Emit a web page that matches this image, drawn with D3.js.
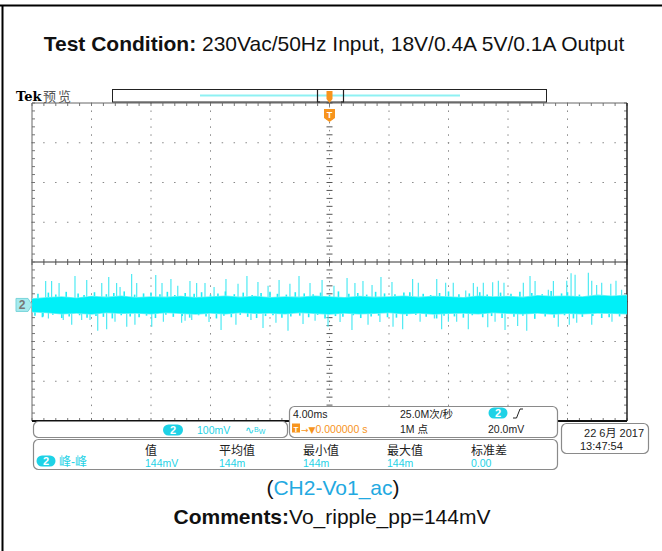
<!DOCTYPE html>
<html>
<head>
<meta charset="utf-8">
<script src="https://cdn.jsdelivr.net/npm/d3@7"></script>
<style>
body { margin: 0; background: #fff; }
svg text { font-family: "Liberation Sans", Arial, "Noto Sans CJK SC", sans-serif; }
</style>
</head>
<body>
<svg id="scope" width="662" height="551"></svg>
<script>
// scope settings: 4 ms/div x 10 div, 100 mV/div x 8 div
const timeDomain = [-20, 20];
const voltDomain = [-400, 400];
const ch2Offset = -108; // mV, trace position on screen

// noise band envelope, one value per ms from -20 to 20 (mV around the trace level)
const bandHi = [15,18,20,17,21,19,22,18,20,19,21,18,20,22,19,21,18,20,19,22,20,18,21,19,20,22,19,21,20,18,22,20,21,19,23,21,22,20,24,22,24];
const bandLo = [-17,-19,-22,-20,-23,-19,-21,-20,-22,-19,-21,-23,-20,-22,-19,-21,-20,-22,-19,-21,-23,-20,-22,-21,-19,-22,-20,-23,-21,-20,-22,-19,-21,-22,-20,-23,-21,-22,-20,-21,-22];

// spikes above the band: time (ms), peak (mV)
const spikeUpT = [-19.08,-18.68,-18.18,-17.11,-16.32,-15.31,-14.84,-14.31,-14.08,-13.30,-12.96,-11.68,-11.26,-10.66,-10.20,-9.38,-8.93,
  -8.37,-7.76,-6.96,-6.15,-5.55,-4.81,-4.13,-3.39,-2.66,-2.05,-1.31,-0.50,0.30,1.18,1.71,2.25,2.86,3.46,4.20,
  5.59,5.97,7.21,7.81,8.32,9.16,9.67,9.94,10.34,10.97,11.35,11.73,13.03,13.48,13.82,14.71,15.05,15.95,16.24,16.51,17.40,17.63,17.96,18.30,18.91,19.26,19.64];
const spikeUpV = [60,60,55,73,63,55,70,55,45,78,55,75,55,65,48,60,55,
  55,45,65,53,73,58,48,63,53,73,55,63,48,68,55,60,50,70,58,
  65,56,65,56,56,36,55,46,56,57,61,56,56,73,60,38,60,61,80,76,81,61,50,56,53,61,38];

// spikes below the band: time (ms), trough (mV)
const spikeDnT = [-19.24,-18.90,-17.90,-17.33,-16.66,-16.10,-15.58,-14.98,-14.42,-13.63,-13.08,-11.95,-11.17,-9.94,-9.71,-9.26,
  -8.10,-7.29,-6.29,-5.28,-4.47,-3.60,-2.79,-1.78,-0.97,-0.10,0.71,1.51,2.59,3.39,4.27,
  4.92,6.09,7.05,7.54,7.99,8.55,9.33,10.64,11.13,11.80,12.65,13.26,15.38,16.12,16.62,17.63,18.99];
const spikeDnV = [-29,-34,-38,-50,-38,-38,-65,-61,-42,-55,-50,-55,-42,-45,-40,-38,
  -43,-63,-50,-38,-58,-45,-65,-48,-40,-55,-43,-63,-50,-43,-55,
  -61,-42,-34,-61,-42,-42,-61,-56,-42,-63,-53,-65,-55,-50,-45,-50,-42];

// short fringe spikes just outside the band: time (ms), level (mV)
const fringeUpT = [-19.6,-18.9,-18.4,-17.7,-16.9,-16.5,-15.8,-15.0,-14.5,-13.8,-13.1,-12.5,-12.0,-11.4,-10.9,-10.4,-9.7,-9.1,-8.6,-8.0,
  -7.5,-7.0,-6.4,-5.8,-5.2,-4.6,-4.0,-3.5,-2.9,-2.3,-1.7,-1.1,-0.6,0.0,0.6,1.3,1.9,2.5,3.1,3.7,
  4.4,5.0,5.4,6.3,6.8,7.4,8.0,8.7,9.4,10.1,10.6,11.5,12.2,12.8,13.6,14.3,14.9,15.6,16.0,16.8];
const fringeUpV = [28,31,26,33,29,25,32,27,30,34,26,29,31,27,33,25,30,28,32,26,
  29,34,27,31,25,30,33,28,26,32,29,27,31,25,34,28,30,26,33,29,
  27,31,32,28,25,30,34,27,29,32,26,31,28,33,30,27,35,29,32,26];
const fringeDnT = [-19.8,-19.3,-18.6,-18.0,-17.5,-16.8,-16.3,-15.7,-15.2,-14.6,-14.0,-13.4,-12.8,-12.3,-11.7,-11.0,-10.5,-9.9,-9.4,-8.8,
  -8.3,-7.6,-7.1,-6.6,-6.0,-5.5,-4.9,-4.3,-3.8,-3.2,-2.6,-2.0,-1.4,-0.8,-0.3,0.4,0.9,1.6,2.1,2.8,
  3.3,3.9,4.5,5.2,5.8,6.5,7.2,7.7,8.4,9.0,9.6,10.3,10.9,11.6,12.4,13.0,13.8,14.5,15.1,15.8,16.4,17.0,17.7,18.3,18.8,19.5];
const fringeDnV = [-27,-31,-25,-33,-29,-26,-32,-28,-30,-34,-26,-29,-31,-27,-33,-25,-30,-28,-32,-26,
  -29,-34,-27,-31,-25,-30,-33,-28,-26,-32,-29,-27,-31,-25,-34,-28,-30,-26,-33,-29,
  -27,-31,-32,-28,-25,-30,-34,-27,-29,-32,-26,-31,-28,-33,-30,-27,-35,-29,-32,-26,-34,-30,-28,-33,-31,-29];

// readouts
const measHeaders = ["值", "平均值", "最小值", "最大值", "标准差"];
const measValues = ["144mV", "144m", "144m", "144m", "0.00"];

const svg = d3.select("#scope");
const x = d3.scaleLinear().domain(timeDomain).range([32, 627]);
const y = d3.scaleLinear().domain(voltDomain).range([421, 103]);
const cyan = "#1ed2e6";
const orange = "#f7941d";

// page frame
svg.append("line").attr("x1", 0).attr("x2", 662).attr("y1", 5.5).attr("y2", 5.5).attr("stroke", "#000").attr("stroke-width", 2);
svg.append("line").attr("x1", 2.5).attr("x2", 2.5).attr("y1", 5).attr("y2", 551).attr("stroke", "#000").attr("stroke-width", 2);

svg.append("text").attr("x", 334).attr("y", 51).attr("text-anchor", "middle")
  .attr("font-size", 21).attr("fill", "#111")
  .call(t => {
    t.append("tspan").attr("font-weight", "bold").text("Test Condition:");
    t.append("tspan").text(" 230Vac/50Hz Input, 18V/0.4A 5V/0.1A Output");
  });

// graticule
const majorT = d3.range(-20, 20.01, 4);
const minorT = d3.range(-20, 20.01, 0.8);
const majorV = d3.range(-400, 401, 100);
const minorV = d3.range(-400, 401, 20);
const grid = svg.append("g");

majorT.filter(t => t > -20 && t < 20 && t !== 0).forEach(t => {
  grid.selectAll(null).data(minorV).enter().append("rect")
    .attr("x", x(t) - 0.5).attr("y", d => y(d) - 0.5).attr("width", 1).attr("height", 1.5).attr("fill", "#888");
});
majorV.filter(v => v > -400 && v < 400 && v !== 0).forEach(v => {
  grid.selectAll(null).data(minorT).enter().append("rect")
    .attr("x", d => x(d) - 0.75).attr("y", y(v) - 0.5).attr("width", 1.5).attr("height", 1).attr("fill", "#888");
});
// center lines
grid.append("line").attr("x1", x(-20)).attr("x2", x(20)).attr("y1", y(0)).attr("y2", y(0)).attr("stroke", "#333");
grid.selectAll(null).data(minorT).enter().append("line")
  .attr("x1", d => x(d)).attr("x2", d => x(d)).attr("y1", y(0) - 3).attr("y2", y(0) + 3).attr("stroke", "#555");
grid.selectAll(null).data(minorV).enter().append("line")
  .attr("x1", x(0) - 3).attr("x2", x(0) + 3).attr("y1", d => y(d)).attr("y2", d => y(d)).attr("stroke", "#555");
grid.selectAll(null).data(minorV).enter().append("rect")
  .attr("x", x(0) - 0.5).attr("y", d => y(d) + 3).attr("width", 1).attr("height", 1.5).attr("fill", "#888");
// edge ticks
grid.selectAll(null).data(minorT).enter().append("line")
  .attr("x1", d => x(d)).attr("x2", d => x(d)).attr("y1", y(400)).attr("y2", y(400) + 3).attr("stroke", "#777");
grid.selectAll(null).data(minorT).enter().append("line")
  .attr("x1", d => x(d)).attr("x2", d => x(d)).attr("y1", y(-400)).attr("y2", y(-400) - 3).attr("stroke", "#777");
grid.selectAll(null).data(minorV).enter().append("line")
  .attr("x1", x(-20)).attr("x2", x(-20) + 3).attr("y1", d => y(d)).attr("y2", d => y(d)).attr("stroke", "#777");
grid.selectAll(null).data(minorV).enter().append("line")
  .attr("x1", x(20)).attr("x2", x(20) - 3).attr("y1", d => y(d)).attr("y2", d => y(d)).attr("stroke", "#777");
// border
grid.append("line").attr("x1", x(-20)).attr("x2", x(-20)).attr("y1", y(400)).attr("y2", y(-400)).attr("stroke", "#666");
grid.append("line").attr("x1", x(-20)).attr("x2", x(20)).attr("y1", y(400)).attr("y2", y(400)).attr("stroke", "#666");
grid.append("line").attr("x1", x(20)).attr("x2", x(20)).attr("y1", y(400)).attr("y2", y(-400)).attr("stroke", "#222").attr("stroke-width", 1.5);
grid.append("line").attr("x1", x(-20)).attr("x2", x(20)).attr("y1", y(-400)).attr("y2", y(-400)).attr("stroke", "#111").attr("stroke-width", 2);

// trace
svg.append("clipPath").attr("id", "plot").append("rect")
  .attr("x", x(-20)).attr("y", y(400)).attr("width", x(20) - x(-20)).attr("height", y(-400) - y(400));
const trace = svg.append("g").attr("clip-path", "url(#plot)");

function spikes(ts, vs, color, w) {
  trace.append("g").selectAll("line").data(ts.slice(0, vs.length)).enter().append("line")
    .attr("x1", d => x(d)).attr("x2", d => x(d))
    .attr("y1", y(ch2Offset)).attr("y2", (d, i) => y(ch2Offset + vs[i]))
    .attr("stroke", color).attr("stroke-width", w);
}
spikes(spikeUpT, spikeUpV, "#3ee8f2", 1.1);
spikes(spikeDnT, spikeDnV, "#3ee8f2", 1.1);
spikes(fringeUpT, fringeUpV, "#20eef6", 1.6);
spikes(fringeDnT, fringeDnV, "#20eef6", 1.6);

const envT = d3.range(-20, 20.01, 1);
trace.append("path").datum(envT)
  .attr("d", d3.area().x(d => x(d))
    .y0((d, i) => y(ch2Offset + bandLo[i] - 2)).y1((d, i) => y(ch2Offset + bandHi[i] + 2)))
  .attr("fill", "#6ff2f6");
trace.append("path").datum(envT)
  .attr("d", d3.area().x(d => x(d))
    .y0((d, i) => y(ch2Offset + bandLo[i])).y1((d, i) => y(ch2Offset + bandHi[i])))
  .attr("fill", "#00f0f8");

// channel 2 ground marker
const gy = y(ch2Offset);
svg.append("path")
  .attr("d", `M16,${gy - 6.5} L28,${gy - 6.5} L32,${gy} L28,${gy + 6.5} L16,${gy + 6.5} Z`)
  .attr("fill", "#a6eaee").attr("stroke", "#78d4da");
svg.append("text").attr("x", 22).attr("y", gy + 4.5).attr("text-anchor", "middle")
  .attr("font-size", 12).attr("font-weight", "bold").attr("fill", "#777").text("2");

// header: Tek label + record bar
svg.append("text").attr("x", 16).attr("y", 101).attr("font-size", 13).attr("font-weight", "bold")
  .style("font-family", "'DejaVu Serif', serif").text("Tek");
svg.append("text").attr("x", 43).attr("y", 101).attr("font-size", 13).attr("letter-spacing", 2).attr("fill", "#555").text("预览");
svg.append("rect").attr("x", 112.5).attr("y", 89.5).attr("width", 434).attr("height", 12.5)
  .attr("fill", "#fff").attr("stroke", "#222");
svg.append("line").attr("x1", 200).attr("x2", 460).attr("y1", 95.5).attr("y2", 95.5)
  .attr("stroke", "#8ff1f3").attr("stroke-width", 2);
svg.append("path").attr("d", "M320,89.5 L317.5,89.5 L317.5,102 L320,102 M341,89.5 L343.5,89.5 L343.5,102 L341,102")
  .attr("fill", "none").attr("stroke", "#222").attr("stroke-width", 1.2);
svg.append("path").attr("d", `M${x(0) - 3},91 h6 v8 l-3,4 l-3,-4 Z`).attr("fill", orange);
svg.append("path").attr("d", `M${x(0) - 5.5},109 h11 v9 l-5.5,4 l-5.5,-4 Z`).attr("fill", orange);
svg.append("text").attr("x", x(0)).attr("y", 117.5).attr("text-anchor", "middle")
  .attr("font-size", 9).attr("font-weight", "bold").attr("fill", "#fff").text("T");

function badge(cx, cy, w, h) {
  svg.append("rect").attr("x", cx - w / 2).attr("y", cy - h / 2).attr("width", w).attr("height", h)
    .attr("rx", h / 2).attr("fill", cyan);
  svg.append("text").attr("x", cx).attr("y", cy + 4).attr("text-anchor", "middle")
    .attr("font-size", 11).attr("font-weight", "bold").attr("fill", "#fff").text("2");
}
function panel(x0, y0, w, h) {
  svg.append("rect").attr("x", x0 + 0.5).attr("y", y0 + 0.5).attr("width", w).attr("height", h)
    .attr("rx", 5).attr("fill", "#fff").attr("stroke", "#8a8a8a").attr("stroke-width", 1.2);
}

// channel panel
panel(33, 421, 254, 16);
badge(173, 430, 20, 11);
svg.append("text").attr("x", 197).attr("y", 434).attr("font-size", 10.5).attr("fill", cyan).text("100mV");
svg.append("text").attr("x", 245).attr("y", 434).attr("font-size", 10.5).attr("fill", cyan)
  .call(t => {
    t.append("tspan").text("∿");
    t.append("tspan").attr("font-size", 7).attr("dy", -2).text("B");
    t.append("tspan").attr("font-size", 7).attr("dy", 2).text("W");
  });

// timebase panel
panel(289, 406, 268, 31);
svg.append("text").attr("x", 293).attr("y", 418).attr("font-size", 10.5).attr("fill", "#222").text("4.00ms");
svg.append("text").attr("x", 400).attr("y", 418).attr("font-size", 10.5).attr("fill", "#222").text("25.0M次/秒");
badge(498, 413, 19, 11);
svg.append("path").attr("d", "M513,418 L516.5,418 L520,409 L523,409").attr("fill", "none").attr("stroke", "#222");
svg.append("rect").attr("x", 292).attr("y", 423.5).attr("width", 8).attr("height", 9).attr("fill", orange);
svg.append("text").attr("x", 296).attr("y", 431.5).attr("text-anchor", "middle").attr("font-size", 8)
  .attr("font-weight", "bold").attr("fill", "#fff").text("T");
svg.append("text").attr("x", 301).attr("y", 433).attr("font-size", 10.5).attr("fill", orange)
  .call(t => {
    t.append("tspan").style("font-family", "'DejaVu Sans', sans-serif").attr("font-size", 9).text("→▼");
    t.append("tspan").text("0.000000 s");
  });
svg.append("text").attr("x", 400).attr("y", 433).attr("font-size", 10.5).attr("fill", "#222").text("1M 点");
svg.append("text").attr("x", 488).attr("y", 433).attr("font-size", 10.5).attr("fill", "#222").text("20.0mV");

// measurement panel
panel(33, 439, 524, 30);
badge(46, 461, 19, 11);
svg.append("text").attr("x", 59).attr("y", 466).attr("font-size", 12).attr("fill", cyan).text("峰-峰");
const measX = [145, 219, 303, 387, 471];
svg.selectAll(".mh").data(measHeaders).enter().append("text").attr("class", "mh")
  .attr("x", (d, i) => measX[i]).attr("y", 455).attr("font-size", 12).attr("fill", "#222").text(d => d);
svg.selectAll(".mv").data(measValues).enter().append("text").attr("class", "mv")
  .attr("x", (d, i) => measX[i]).attr("y", 466.5).attr("font-size", 10.5).attr("fill", cyan).text(d => d);

// date panel
panel(561, 423, 87, 30);
svg.append("text").attr("x", 644).attr("y", 437).attr("text-anchor", "end").attr("font-size", 11).attr("fill", "#222").text("22 6月 2017");
svg.append("text").attr("x", 580).attr("y", 450).attr("font-size", 11).attr("fill", "#222").text("13:47:54");

// captions
svg.append("text").attr("x", 333).attr("y", 495).attr("text-anchor", "middle").attr("font-size", 21)
  .call(t => {
    t.append("tspan").attr("fill", "#111").text("(");
    t.append("tspan").attr("fill", "#22a9e1").text("CH2-Vo1_ac");
    t.append("tspan").attr("fill", "#111").text(")");
  });
svg.append("text").attr("x", 332).attr("y", 524).attr("text-anchor", "middle").attr("font-size", 21).attr("fill", "#111")
  .call(t => {
    t.append("tspan").attr("font-weight", "bold").text("Comments:");
    t.append("tspan").text("Vo_ripple_pp=144mV");
  });
</script>
</body>
</html>
